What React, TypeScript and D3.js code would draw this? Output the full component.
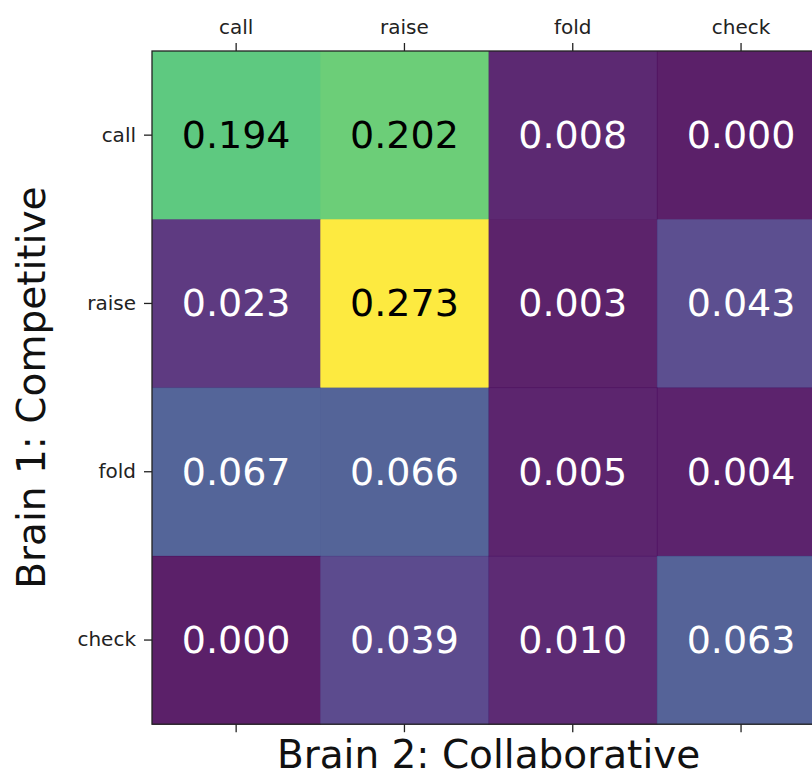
import React, { useEffect, useRef } from 'react';
import * as d3 from 'd3';

// row = Brain 1 action, column = Brain 2 action
const actions = ['call', 'raise', 'fold', 'check'];
const callRow = [0.194, 0.202, 0.008, 0.0];
const raiseRow = [0.023, 0.273, 0.003, 0.043];
const foldRow = [0.067, 0.066, 0.005, 0.004];
const checkRow = [0.0, 0.039, 0.01, 0.063];
const rows = [callRow, raiseRow, foldRow, checkRow];

const App = () => {
  const svgRef = useRef<SVGSVGElement>(null);

  useEffect(() => {
    const svg = d3.select(svgRef.current);
    svg.selectAll('*').remove();

    const width = 812;
    const height = 777;
    const left = 152;
    const top = 51;
    const cell = 168.3;
    const font = 'DejaVu Sans, sans-serif';

    svg.attr('width', width).attr('height', height);

    const x = d3.scaleBand().domain(actions).range([left, left + cell * 4]);
    const y = d3.scaleBand().domain(actions).range([top, top + cell * 4]);

    const flat = rows.flat();
    const color = d3
      .scaleSequential(d3.interpolateViridis)
      .domain([d3.min(flat) as number, d3.max(flat) as number]);

    const cells = rows.flatMap((r, i) =>
      r.map((v, j) => ({ row: actions[i], col: actions[j], v }))
    );

    const g = svg.append('g');

    g.selectAll('rect')
      .data(cells)
      .join('rect')
      .attr('x', (d) => x(d.col)!)
      .attr('y', (d) => y(d.row)!)
      .attr('width', x.bandwidth() + 0.5)
      .attr('height', y.bandwidth() + 0.5)
      .attr('fill', (d) => color(d.v))
      .attr('fill-opacity', 0.88);

    // cell annotations
    g.selectAll('text.val')
      .data(cells)
      .join('text')
      .attr('class', 'val')
      .attr('x', (d) => x(d.col)! + x.bandwidth() / 2)
      .attr('y', (d) => y(d.row)! + y.bandwidth() / 2)
      .attr('text-anchor', 'middle')
      .attr('dominant-baseline', 'central')
      .attr('font-family', font)
      .attr('font-size', 38)
      .attr('fill', (d) => (d.v > 0.15 ? '#000' : '#fff'))
      .text((d) => d.v.toFixed(3));

    // Axes: labels on top, ticks also at bottom
    const topAxis = svg
      .append('g')
      .attr('transform', `translate(0, ${top})`)
      .call(d3.axisTop(x).tickSize(8).tickPadding(9));
    const bottomAxis = svg
      .append('g')
      .attr('transform', `translate(0, ${top + cell * 4})`)
      .call(d3.axisBottom(x).tickSize(8).tickFormat(() => ''));
    const leftAxis = svg
      .append('g')
      .attr('transform', `translate(${left}, 0)`)
      .call(d3.axisLeft(y).tickSize(8).tickPadding(8));

    [topAxis, bottomAxis, leftAxis].forEach((a) => {
      a.select('.domain').remove();
      a.selectAll('line').attr('stroke', '#222').attr('stroke-width', 1.3);
      a.selectAll('text')
        .attr('font-family', font)
        .attr('font-size', 20)
        .attr('fill', '#222');
    });

    // frame
    svg
      .append('rect')
      .attr('x', left)
      .attr('y', top)
      .attr('width', cell * 4)
      .attr('height', cell * 4)
      .attr('fill', 'none')
      .attr('stroke', '#222')
      .attr('stroke-width', 1.3);

    svg
      .append('text')
      .attr('x', left + cell * 2)
      .attr('y', 768)
      .attr('text-anchor', 'middle')
      .attr('font-family', font)
      .attr('font-size', 39)
      .attr('fill', '#111')
      .text('Brain 2: Collaborative');

    svg
      .append('text')
      .attr('transform', `translate(45, ${top + cell * 2}) rotate(-90)`)
      .attr('text-anchor', 'middle')
      .attr('font-family', font)
      .attr('font-size', 39)
      .attr('fill', '#111')
      .text('Brain 1: Competitive');
  }, []);

  return (
    <div style={{ position: 'absolute', left: 0, top: 0, overflow: 'hidden', width: 812, height: 777 }}>
      <svg ref={svgRef} style={{ display: 'block' }}></svg>
    </div>
  );
};

export default App;
